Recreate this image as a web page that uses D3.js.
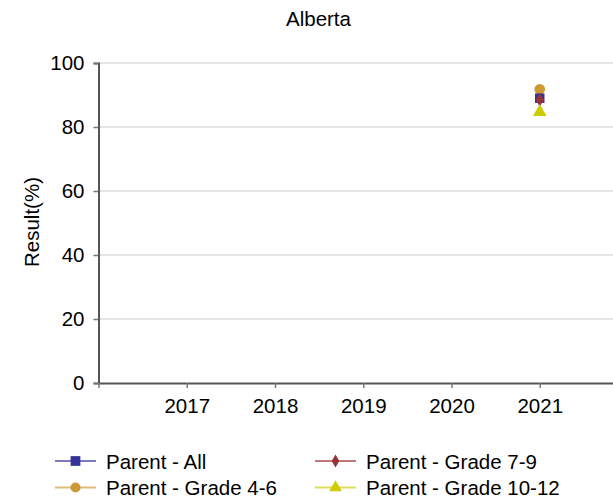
<!DOCTYPE html>
<html><head><meta charset="utf-8">
<script src="https://cdn.jsdelivr.net/npm/d3@7"></script>
<style>body{margin:0;background:#fff}svg{display:block;font-family:"Liberation Sans",Arial,sans-serif}</style>
</head><body><svg id="c" width="613" height="501"></svg>
<script>
const years = [2017, 2018, 2019, 2020, 2021];
const yTicks = [0, 20, 40, 60, 80, 100];
const seriesNames = ["Parent - All", "Parent - Grade 7-9", "Parent - Grade 4-6", "Parent - Grade 10-12"];
const parentAll = [null, null, null, null, 89.0];
const grade79 = [null, null, null, null, 88.5];
const grade46 = [null, null, null, null, 91.8];
const grade1012 = [null, null, null, null, 84.7];
const colors = ["#333399", "#993333", "#cc9933", "#cccc00"];
const symbols = [d3.symbolSquare, d3.symbolDiamond, d3.symbolCircle, d3.symbolTriangle];
const symSizes = [90, 55, 90, 80];

const svg = d3.select("#c");
const FS = 20.5;
const m = {l: 98.5, r: 613, t: 63, b: 383};
const x = d3.scaleLinear().domain([2016, 2021.83]).range([m.l, m.r]);
const y = d3.scaleLinear().domain([0, 100]).range([m.b, m.t]);

svg.append("text").attr("x", 318.5).attr("y", 25.5).attr("text-anchor", "middle")
  .attr("font-size", FS).attr("fill", "#000").text("Alberta");

// grid
svg.append("g").selectAll("line").data(yTicks.filter(d => d > 0)).join("line")
  .attr("x1", m.l).attr("x2", m.r).attr("y1", d => y(d)).attr("y2", d => y(d))
  .attr("stroke", "#dcdcdc").attr("stroke-width", 1.5);

// y axis
const ya = svg.append("g").attr("transform", `translate(${m.l},0)`)
  .call(d3.axisLeft(y).tickValues(yTicks).tickSize(5).tickPadding(9));
ya.select(".domain").attr("stroke", "#555").attr("stroke-width", 2);
ya.selectAll(".tick line").attr("stroke", "#777").attr("stroke-width", 1.5);
ya.selectAll("text").attr("font-size", FS).attr("fill", "#000").attr("font-family", "Liberation Sans, Arial, sans-serif");

// x axis
const xa = svg.append("g").attr("transform", `translate(0,${m.b})`)
  .call(d3.axisBottom(x).tickValues([2016, ...years]).tickFormat(d => d === 2016 ? "" : d).tickSize(5).tickSizeOuter(0).tickPadding(10));
xa.select(".domain").attr("stroke", "#555").attr("stroke-width", 2);
xa.selectAll(".tick line").attr("stroke", "#777").attr("stroke-width", 1.5);
xa.selectAll("text").attr("font-size", FS).attr("fill", "#000").attr("font-family", "Liberation Sans, Arial, sans-serif");

svg.append("text").attr("transform", "translate(38.5,222) rotate(-90)").attr("text-anchor", "middle")
  .attr("font-size", FS).attr("fill", "#000").text("Result(%)");

// points
const data = [
  {vals: grade46, i: 2},
  {vals: parentAll, i: 0},
  {vals: grade79, i: 1},
  {vals: grade1012, i: 3}
];
data.forEach(s => {
  const pts = years.map((yr, k) => ({yr, v: s.vals[k]})).filter(p => p.v != null);
  svg.append("path").datum(pts)
    .attr("d", d3.line().x(p => x(p.yr)).y(p => y(p.v)))
    .attr("fill", "none").attr("stroke", colors[s.i]).attr("stroke-width", 2);
  svg.append("g").selectAll("path").data(pts).join("path")
    .attr("transform", p => `translate(${x(p.yr)},${y(p.v)})`)
    .attr("d", d3.symbol(symbols[s.i], symSizes[s.i]))
    .attr("fill", colors[s.i]);
});

// legend
const legPos = [[55, 461], [315, 461], [55, 487.5], [315, 487.5]];
const legSizes = [95, 50, 80, 70];
seriesNames.forEach((n, i) => {
  const [lx, ly] = legPos[i];
  const g = svg.append("g").attr("transform", `translate(${lx},${ly})`);
  g.append("line").attr("x1", 0).attr("x2", 41).attr("y1", 0).attr("y2", 0)
    .attr("stroke", colors[i]).attr("stroke-opacity", 0.65).attr("stroke-width", 2);
  g.append("path").attr("transform", "translate(20.5,0)")
    .attr("d", d3.symbol(symbols[i], legSizes[i])).attr("fill", colors[i]);
  g.append("text").attr("x", 51).attr("y", 7.5).attr("font-size", FS).attr("fill", "#000").text(n);
});
</script></body></html>
